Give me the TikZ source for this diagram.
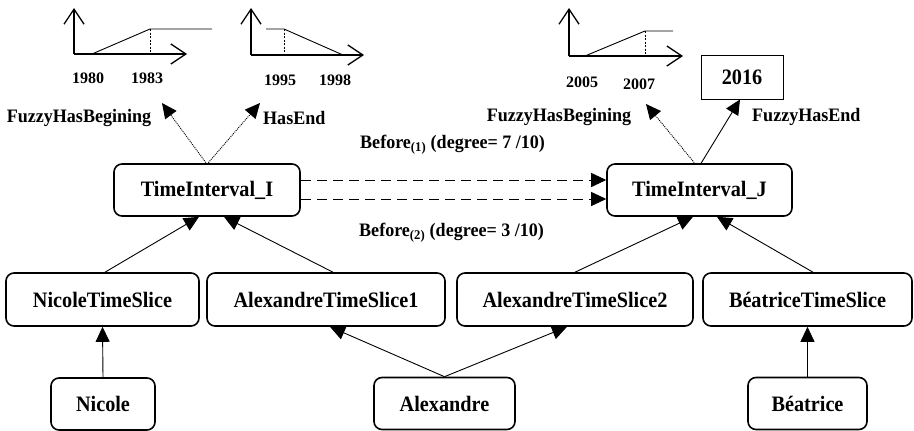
\documentclass[tikz,border=0pt]{standalone}
\usepackage{fontspec}
\setmainfont{Liberation Serif}
\newfontfamily\condserif{Liberation Serif}[FakeStretch=0.92]
\newfontfamily\lblserif{Liberation Serif}[FakeStretch=0.95]
\usetikzlibrary{arrows.meta}
\newcommand\boxfnt{\condserif\fontsize{22}{26}\selectfont\bfseries}
\newcommand\lblfnt{\lblserif\fontsize{19}{22}\selectfont\bfseries}
\newcommand\yrfnt{\fontsize{16}{19}\selectfont\bfseries}
\tikzset{
  box/.style={draw, rounded corners=8pt, line width=1.6pt, inner sep=0pt,
              minimum height=52pt, font=\boxfnt},
  plainbox/.style={draw, line width=0.9pt, inner sep=0pt, font=\boxfnt},
  lbl/.style={inner sep=0pt, font=\lblfnt},
  yr/.style={inner sep=0pt, font=\yrfnt},
  conn/.style={line width=0.9pt, -{Triangle[length=15pt,width=14pt]}},
  dotconn/.style={line width=0.9pt, dash pattern=on 1pt off 1pt,
                  -{Triangle[length=15pt,width=14pt,line width=0.9pt]}},
  dashconn/.style={line width=0.9pt, dash pattern=on 10pt off 6pt,
                   -{Triangle[length=15pt,width=14pt]}},
  axis/.style={line width=1.3pt, -{Straight Barb[length=15pt,width=20pt,line width=1.3pt]}},
  curve/.style={line width=0.9pt},
  dropline/.style={line width=0.8pt, dash pattern=on 2pt off 1.5pt}
}
\begin{document}
\begin{tikzpicture}[x=1pt, y=-1pt]
\useasboundingbox (0,0) rectangle (914,431);

% membership functions of the interval bounds
\draw[axis] (74,54) -- (74,8);
\draw[axis] (74,54) -- (187,54);
\draw[curve] (92,54) -- (150,29) -- (212,29);
\draw[dropline] (150,29) -- (150,54);

\draw[axis] (251,55) -- (251,8);
\draw[axis] (251,55) -- (364,55);
\draw[curve] (266,29) -- (284,29) -- (343,55);
\draw[dropline] (284,29) -- (284,55);

\draw[axis] (569,56) -- (569,8);
\draw[axis] (569,56) -- (683,56);
\draw[curve] (585,56) -- (645,31) -- (673,31);
\draw[dropline] (645,31) -- (645,56);

\node[yr] (y1980) at (88,78) {1980};
\node[yr] (y1983) at (147,78) {1983};
\node[yr] (y1995) at (280,80) {1995};
\node[yr] (y1998) at (335,80) {1998};
\node[yr] (y2005) at (582,82) {2005};
\node[yr] (y2007) at (639,84) {2007};

\node[plainbox, minimum width=82pt, minimum height=44pt] (y2016) at (742,77) {2016};

% property labels
\node[lbl] (fhb1) at (79,118) {FuzzyHasBegining};
\node[lbl, anchor=west] (he) at (263,118) {HasEnd};
\node[lbl] (fhb2) at (559,117) {FuzzyHasBegining};
\node[lbl, anchor=west] (fhe) at (752,117) {FuzzyHasEnd};
\node[lbl, anchor=west] (bef1) at (360,145) {Before\textsubscript{(1)} (degree= 7 /10)};
\node[lbl, anchor=west] (bef2) at (359,233) {Before\textsubscript{(2)} (degree= 3 /10)};

% intervals
\node[box, minimum width=186pt] (tiI) at (207,190) {TimeInterval\_I};
\node[box, minimum width=185pt] (tiJ) at (699.5,190) {TimeInterval\_J};

% time slices
\node[box, minimum width=193pt, minimum height=53pt] (nts) at (102.5,299.5) {NicoleTimeSlice};
\node[box, minimum width=238pt, minimum height=53pt] (ats1) at (326,299.5) {AlexandreTimeSlice1};
\node[box, minimum width=236pt, minimum height=53pt] (ats2) at (575,299.5) {AlexandreTimeSlice2};
\node[box, minimum width=209pt, minimum height=53pt] (bts) at (807.5,299.5) {BéatriceTimeSlice};

% persons
\node[box, minimum width=104pt] (nicole) at (103,404) {Nicole};
\node[box, minimum width=141pt] (alex) at (444.5,403.5) {Alexandre};
\node[box, minimum width=119pt] (bea) at (807.5,403.5) {Béatrice};

% free ends of the dotted bound arrows
\coordinate (tipB1) at (162,103);
\coordinate (tipE1) at (260,103);
\coordinate (tipB2) at (646,104);

% connectors
\draw[conn] (nicole.north) -- (nts.south);
\draw[conn] (alex.north) -- ([xshift=4pt]ats1.south);
\draw[conn] (alex.north) -- ([xshift=-8pt]ats2.south);
\draw[conn] (bea.north) -- (bts.south);

\draw[conn] ([xshift=2.5pt]nts.north) -- ([xshift=-8pt]tiI.south);
\draw[conn] ([xshift=7pt]ats1.north) -- ([xshift=17pt]tiI.south);
\draw[conn] (ats2.north) -- ([xshift=-6.5pt]tiJ.south);
\draw[conn] ([xshift=5.5pt]bts.north) -- ([xshift=17.5pt]tiJ.south);

\draw[dashconn] ([yshift=-9pt]tiI.east) -- ([yshift=-9pt]tiJ.west);
\draw[dashconn] ([yshift=10pt]tiI.east) -- ([yshift=10pt]tiJ.west);

\draw[dotconn] ([yshift=-1pt]tiI.north) -- (tipB1);
\draw[dotconn] ([yshift=-1pt]tiI.north) -- (tipE1);
\draw[dotconn] ([xshift=-4pt,yshift=-1pt]tiJ.north) -- (tipB2);
\draw[conn] ([xshift=1pt,yshift=-1pt]tiJ.north) -- ([xshift=-2pt]y2016.south);
\end{tikzpicture}
\end{document}
